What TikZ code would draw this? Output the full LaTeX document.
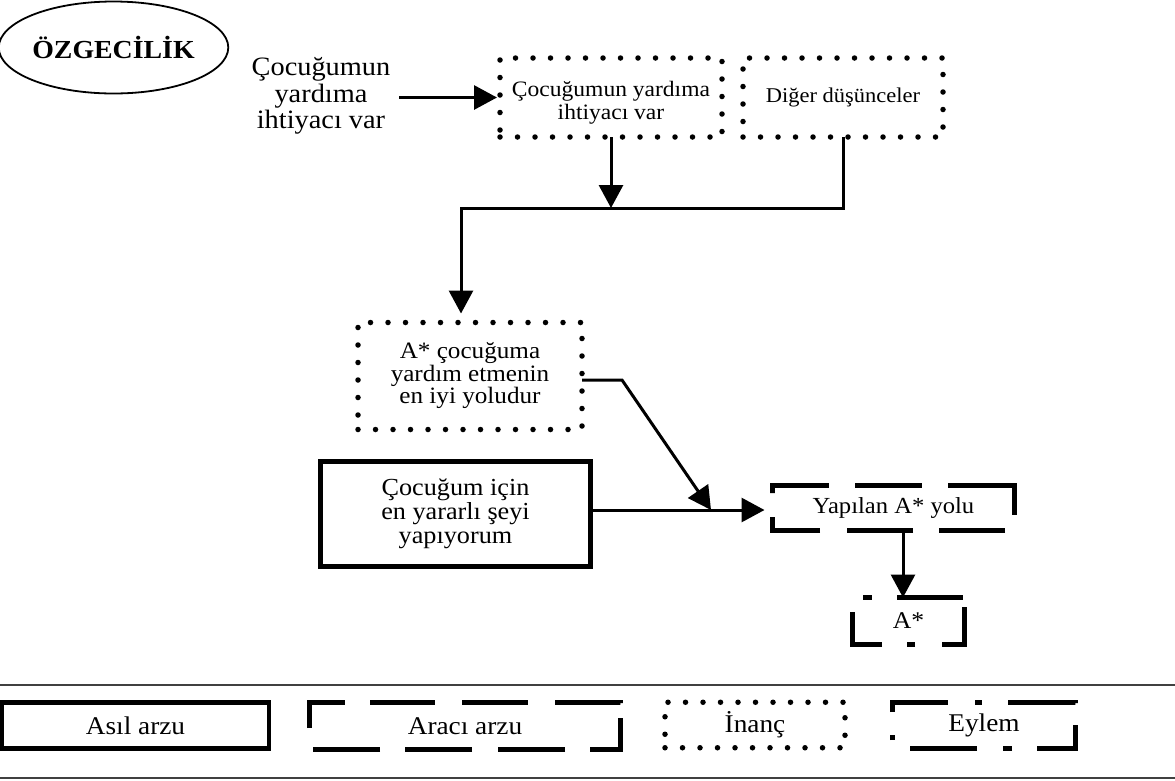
\documentclass[tikz,border=0pt]{standalone}
\usepackage{fontspec}
\setmainfont{Liberation Serif}[FakeStretch=1.07]
\usetikzlibrary{arrows.meta,shapes.geometric}
\lineskiplimit=-30pt
\begin{document}
\begin{tikzpicture}[x=1pt,y=-1pt,
  every node/.style={inner sep=0pt, outer sep=0pt},
  conn/.style={line width=3pt},
  arr/.style={conn, -{Triangle[length=23pt,width=24pt]}},
  dotbox/.style={draw, rectangle, line width=5.5pt, line cap=round, dash pattern=on 0pt off 17.5pt},
  solidbox/.style={draw, rectangle, line width=5pt},
  plainbox/.style={rectangle},
  dashline/.style={line width=4.5pt},
  legtext/.style={font=\fontsize{25.5}{27}\selectfont},
]
\useasboundingbox (0,0) rectangle (1175,780);

% title ellipse
\node[draw, ellipse, line width=1.8pt, minimum width=213pt, minimum height=92pt,
      font=\bfseries\fontsize{26}{28}\selectfont] (oz) at (113.5,47.5) {ÖZGECİLİK};

% top row
\node[align=center, font=\fontsize{26.5}{26.5}\selectfont] (lt) at (321,96) {Çocuğumun\\yardıma\\ihtiyacı var};
\node[dotbox, minimum width=222pt, minimum height=79pt] (b1) at (611,97.5) {};
\node[align=center, font=\fontsize{22}{23}\selectfont] (t1) at (611,102.5) {Çocuğumun yardıma\\ihtiyacı var};
\node[dotbox, minimum width=200pt, minimum height=79pt, font=\fontsize{21}{23}\selectfont] (b2) at (843,97.5) {Diğer düşünceler};

% middle
\node[dotbox, minimum width=224pt, minimum height=107pt, align=center,
      font=\fontsize{23.5}{22.5}\selectfont] (b3) at (470,376) {A* çocuğuma\\yardım etmenin\\en iyi yoludur};
\node[solidbox, minimum width=270pt, minimum height=105pt, align=center,
      font=\fontsize{24.5}{24}\selectfont] (b4) at (455.5,513.5) {Çocuğum için\\en yararlı şeyi\\yapıyorum};
\node[plainbox, minimum width=242pt, minimum height=45pt, font=\fontsize{23}{25}\selectfont] (yap) at (893.5,508) {Yapılan A* yolu};
\node[plainbox, minimum width=112pt, minimum height=47pt, font=\fontsize{24}{26}\selectfont] (as) at (908.5,621) {A*};

\draw[dashline, dash pattern=on 64pt off 26pt on 67pt off 26pt on 96pt off 25pt on 66pt off 26pt on 66pt off 27pt on 61pt off 24pt]
  ([yshift=-7.5pt]yap.north west) -- (yap.north west) -- (yap.north east) -- (yap.south east) -- (yap.south west) -- cycle;
\draw[dashline, dash pattern=on 9pt off 25pt on 66pt off 11pt on 60pt off 27pt on 8pt off 25pt on 62pt off 25pt]
  ([xshift=10.5pt]as.north west) -- (as.north east) -- (as.south east) -- (as.south west) -- (as.north west) -- cycle;

% connectors
\coordinate (jn) at (612,208);
\coordinate (jl) at (461,208);
\coordinate (mt) at (711,510);
\draw[arr, shorten >=3pt] ([xshift=9pt]lt.east |- b1.west) -- (b1.west);
\draw[arr] (b1.south) -- (b1.south |- jn);
\draw[arr, shorten >=9pt] (b2.south) |- (jl) -- (jl |- b3.north);
\draw[arr] ([yshift=-4pt]b3.east) -- ++(40,0) -- (mt);
\draw[arr, shorten >=8pt] (b4.east |- mt) -- (mt -| yap.west);
\draw[arr] ([xshift=9.5pt]yap.south) -- ([xshift=9.5pt]yap.south |- as.north);

% legend
\draw[line width=2pt, black!75] (0,685) -- (1175,685);
\draw[line width=2pt, black!75] (0,778) -- (1175,778);
\node[solidbox, line width=4.5pt, minimum width=267pt, minimum height=46pt, legtext] (la) at (135.5,725.5) {Asıl arzu};
\node[plainbox, minimum width=311pt, minimum height=47pt, legtext] (lb) at (465,726) {Aracı arzu};
\node[dotbox, minimum width=180pt, minimum height=45.5pt, legtext] (lc) at (755,725) {İnanç};
\node[plainbox, minimum width=183pt, minimum height=46pt, legtext] (ld) at (984,725.5) {Eylem};
\draw[dashline, dash pattern=on 61pt off 25pt on 65pt off 27pt on 66pt off 27pt on 65.5pt off 15.5pt on 62pt off 25pt on 67pt off 26pt on 67pt off 25pt on 67pt off 25pt]
  ([yshift=-25.5pt]lb.north west) -- (lb.north west) -- (lb.north east) -- (lb.south east) -- (lb.south west) -- cycle;
\draw[dashline, dash pattern=on 65pt off 27pt on 7pt off 26pt on 67.5pt off 22.5pt on 62pt off 25pt on 9pt off 26pt on 67pt off 26pt on 5pt off 23pt]
  ([yshift=-9.5pt]ld.north west) -- (ld.north west) -- (ld.north east) -- (ld.south east) -- (ld.south west) -- cycle;
\end{tikzpicture}
\end{document}
